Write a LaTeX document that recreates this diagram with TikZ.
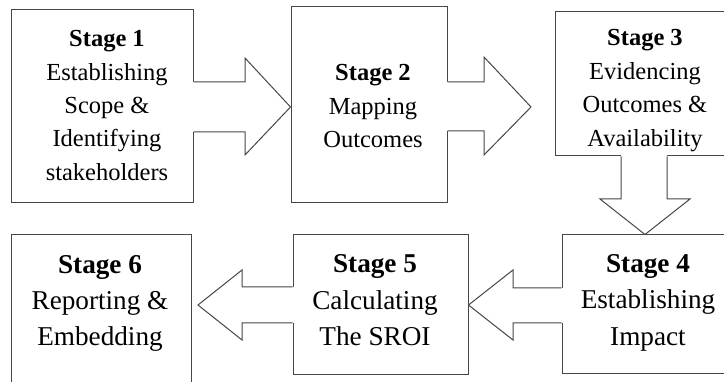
\documentclass[tikz,border=0pt]{standalone}
\usepackage{fontspec}
\setmainfont{Liberation Serif}
\definecolor{edge}{RGB}{70,70,70}
\begin{document}
\begin{tikzpicture}[x=1pt,y=-1pt,
  stagebox/.style={draw=edge,line width=1pt,fill=white,inner sep=0pt},
  toptext/.style={anchor=base,inner sep=0pt,font=\fontsize{24.5}{33.4}\selectfont},
  bottext/.style={anchor=base,inner sep=0pt,font=\fontsize{27.2}{36.2}\selectfont},
  arrowfill/.style={fill=white},
  arrowline/.style={draw=edge,line width=1pt,line join=miter}]
\useasboundingbox (0,0) rectangle (724,382);
\clip (0,0) rectangle (724,382);
% boxes
\node[stagebox,minimum width=182pt,minimum height=193pt] (s1) at (102,106.5) {};
\node[stagebox,minimum width=156pt,minimum height=196pt] (s2) at (369,105) {};
\node[stagebox,minimum width=195pt,minimum height=144pt] (s3) at (652.5,84) {};
\node[stagebox,minimum width=188pt,minimum height=139pt] (s4) at (656,304.5) {};
\node[stagebox,minimum width=175pt,minimum height=140pt] (s5) at (380.5,305) {};
\node[stagebox,minimum width=180pt,minimum height=175pt] (s6) at (101,322.5) {};
% arrow 1 -> 2
\fill[arrowfill] ([xshift=-1.5pt]s1.east |- 0,82) -- (245,82) -- (245,58) -- (s2.west |- 0,107) -- (245,155) -- (245,132) -- ([xshift=-1.5pt]s1.east |- 0,132) -- cycle;
\draw[arrowline] (s1.east |- 0,82) -- (245,82) -- (245,58) -- (s2.west |- 0,107) -- (245,155) -- (245,132) -- (s1.east |- 0,132);
% arrow 2 -> 3
\coordinate (tip2) at (531,107);
\fill[arrowfill] ([xshift=-1.5pt]s2.east |- 0,82) -- (484,82) -- (484,57) -- (tip2) -- (484,155) -- (484,131) -- ([xshift=-1.5pt]s2.east |- 0,131) -- cycle;
\draw[arrowline] (s2.east |- 0,82) -- (484,82) -- (484,57) -- (tip2) -- (484,155) -- (484,131) -- (s2.east |- 0,131);
% arrow 3 -> 4
\fill[arrowfill] ([yshift=1.5pt]621,0 |- s3.south) -- (621,199) -- (600,199) -- (s4.north -| 645,0) -- (690,199) -- (667,199) -- ([yshift=1.5pt]667,0 |- s3.south) -- cycle;
\draw[arrowline] (621,0 |- s3.south) -- (621,199) -- (600,199) -- (s4.north -| 645,0) -- (690,199) -- (667,199) -- (667,0 |- s3.south);
% arrow 4 -> 5
\fill[arrowfill] ([xshift=1.5pt]s4.west |- 0,288) -- (513,288) -- (513,270) -- (s5.east |- 0,305) -- (513,340) -- (513,323) -- ([xshift=1.5pt]s4.west |- 0,323) -- cycle;
\draw[arrowline] (s4.west |- 0,288) -- (513,288) -- (513,270) -- (s5.east |- 0,305) -- (513,340) -- (513,323) -- (s4.west |- 0,323);
% arrow 5 -> 6
\coordinate (tip5) at (198,305);
\fill[arrowfill] ([xshift=1.5pt]s5.west |- 0,287) -- (242,287) -- (242,270) -- (tip5) -- (242,340) -- (242,323) -- ([xshift=1.5pt]s5.west |- 0,323) -- cycle;
\draw[arrowline] (s5.west |- 0,287) -- (242,287) -- (242,270) -- (tip5) -- (242,340) -- (242,323) -- (s5.west |- 0,323);
% texts
\node[toptext] (t1) at (107,46.7) {\begin{tabular}[t]{@{}c@{}}\textbf{Stage 1}\\Establishing\\Scope \&\\Identifying\\stakeholders\end{tabular}};
\node[toptext] (t2) at (373,81) {\begin{tabular}[t]{@{}c@{}}\textbf{Stage 2}\\Mapping\\Outcomes\end{tabular}};
\node[toptext] (t3) at (645,46) {\begin{tabular}[t]{@{}c@{}}\textbf{Stage 3}\\Evidencing\\Outcomes \&\\Availability\end{tabular}};
\node[bottext] (t4) at (648,272.7) {\begin{tabular}[t]{@{}c@{}}\textbf{Stage 4}\\Establishing\\Impact\end{tabular}};
\node[bottext] (t5) at (375,273) {\begin{tabular}[t]{@{}c@{}}\textbf{Stage 5}\\Calculating\\The SROI\end{tabular}};
\node[bottext] (t6) at (100,273.5) {\begin{tabular}[t]{@{}c@{}}\textbf{Stage 6}\\Reporting \&\\Embedding\end{tabular}};
\end{tikzpicture}
\end{document}
